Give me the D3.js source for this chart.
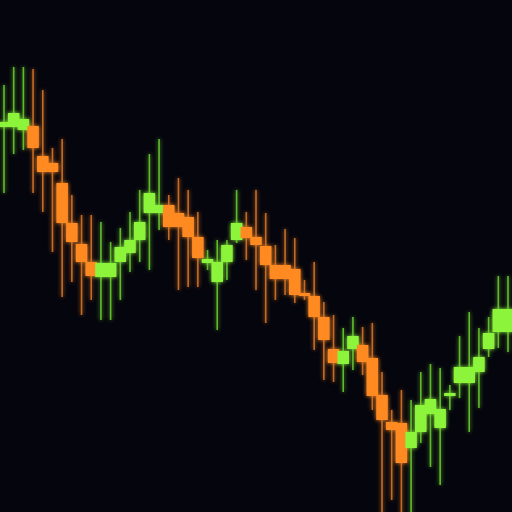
<!DOCTYPE html>
<html>
<head>
<meta charset="utf-8">
<script src="https://cdn.jsdelivr.net/npm/d3@7/dist/d3.min.js"></script>
<style>
  html, body { margin: 0; padding: 0; background: #05050e; }
  svg { display: block; }
</style>
</head>
<body>
<svg id="chart" width="512" height="512"></svg>
<script>
const opens  = [146.25,146.25,145.5,146.5,139,137.25,132.25,122.25,117,112.5,108.75,108.75,112.5,114.75,118,124.75,124.75,126.75,124.75,123.75,118.75,112.25,107.5,112.5,118,121.25,118.75,116.5,111.75,111.75,110.75,104.75,104,98.75,90.75,87,90.75,91.75,88.5,79.25,72.5,72.25,66,70,74.5,71,79,82.25,82.25,85,90.75,95,95];
const closes = [147.5,149.75,148.25,141,135,135,122.25,117.5,112.5,109,112.25,112.25,116.25,118,122.5,129.75,126.75,121.25,121.25,118.75,113.5,113.25,112.5,116.75,122.25,118.5,116.75,111.75,108.25,108.25,104.25,104,98.75,93,87.25,90.25,94,87.5,79,73,70.5,62.25,70,76.75,78.25,75.75,79.75,86.25,86.25,88.75,94.75,100.75,100.75];
const highs  = [156.75,161.25,161.25,160.75,155.5,141,143.25,129.25,124.25,124.25,122.5,117.5,121,125,130.5,139.5,143.25,129.25,133.5,130.5,125,115.5,118,118,130.5,125,130.5,124.75,116.75,120.75,118.5,108,112.5,102.5,99.25,96,98.75,96.25,97.25,85,75.5,80.5,78,85,87,86,81.75,94,100,96,98.75,109,109];
const lows   = [129.75,139.5,140.5,129.75,125,115,103.75,107.5,99.25,103,98,98,103,110,112.5,110.5,120.5,118,105.5,106.25,106.25,110.5,95.5,108,117.25,113,105.5,97.25,103,104.25,102.25,103,90.5,83,82.5,80,85.5,84.25,75.5,48,53,48,48,67.25,61.25,56.75,75.5,78.5,70,76,88.75,91,90];

const W = 512, H = 512;
const svg = d3.select('#chart');
svg.append('rect').attr('width', W).attr('height', H).attr('fill', '#05050e');

const defs = svg.append('defs');
const f = defs.append('filter').attr('id', 'glow').attr('x', '-50%').attr('y', '-50%').attr('width', '200%').attr('height', '200%');
f.append('feGaussianBlur').attr('stdDeviation', 2).attr('result', 'b');
const m = f.append('feMerge');
m.append('feMergeNode').attr('in', 'b');
m.append('feMergeNode').attr('in', 'SourceGraphic');

const data = opens.map((o, i) => ({ i, o, c: closes[i], h: highs[i], l: lows[i] }));

const x = d3.scaleLinear().domain([0, data.length - 1]).range([4, 508]);
const y = d3.scaleLinear().domain([50, 178]).range([H, 0]);

const up = '#8cf53a', down = '#ff8a24';
const upWick = '#6fd42e', downWick = '#e07a26';
const bw = 11.5;

const g = svg.append('g').attr('filter', 'url(#glow)');

g.selectAll('line.wick').data(data).join('line')
  .attr('class', 'wick')
  .attr('x1', d => x(d.i)).attr('x2', d => x(d.i))
  .attr('y1', d => y(d.h)).attr('y2', d => y(d.l))
  .attr('stroke', d => d.c >= d.o ? upWick : downWick)
  .attr('stroke-width', 1.6)
  .attr('opacity', 0.85);

g.selectAll('rect.body').data(data).join('rect')
  .attr('class', 'body')
  .attr('x', d => x(d.i) - bw / 2)
  .attr('width', bw)
  .attr('y', d => y(Math.max(d.o, d.c)))
  .attr('height', d => Math.max(3, Math.abs(y(d.o) - y(d.c))))
  .attr('fill', d => d.c >= d.o ? up : down);
</script>
</body>
</html>
